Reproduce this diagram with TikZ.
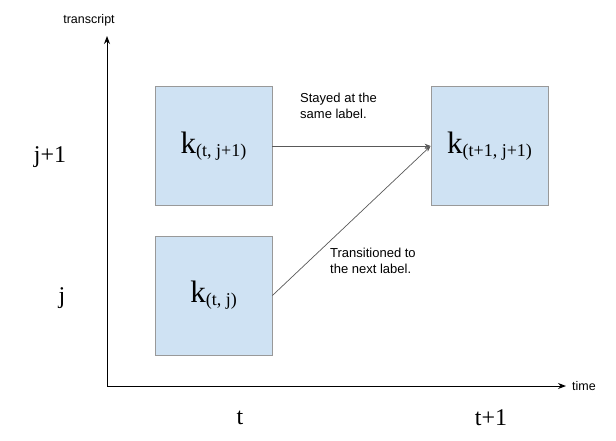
\documentclass[tikz,border=0pt]{standalone}
\usepackage{fontspec}
\setmainfont{Liberation Serif}
\setsansfont{Liberation Sans}
\usetikzlibrary{arrows.meta}
\definecolor{boxfill}{HTML}{CFE2F3}
\definecolor{boxline}{HTML}{999999}
\definecolor{conn}{HTML}{595959}
\begin{document}
\begin{tikzpicture}[x=1pt,y=-1pt,
  kbox/.style={draw=boxline,fill=boxfill,line width=0.8pt,minimum width=117pt,minimum height=119pt,inner sep=0pt,font=\fontsize{31}{33}\selectfont},
  axislbl/.style={font=\fontsize{24}{26}\selectfont,inner sep=0pt},
  note/.style={font=\sffamily\fontsize{13}{16}\selectfont,align=left,inner sep=0pt,anchor=north west},
  conn/.style={draw=conn,line width=0.7pt,-{Stealth[length=6pt,width=4.5pt]}},
  axis/.style={draw=black,line width=1pt,-{Stealth[length=8pt,width=6pt]}}]
\useasboundingbox (0,0) rectangle (616,440);
\node[kbox] (a) at (213.5,146) {k\raisebox{-0.2ex}{\fontsize{18}{20}\selectfont(t, j+1)}};
\node[kbox] (b) at (213.5,295.5) {k\raisebox{-0.2ex}{\fontsize{18}{20}\selectfont(t, j)}};
\node[kbox] (c) at (489.5,146) {k\raisebox{-0.2ex}{\fontsize{18}{20}\selectfont(t+1, j+1)}};
\coordinate (o) at (107,386);
\coordinate (yt) at (107,36);
\coordinate (xt) at (566,386);
\draw[axis] (o) -- (yt);
\draw[axis] (o) -- (xt);
\node[font=\sffamily\fontsize{12.5}{14}\selectfont,inner sep=0pt] (tr) at (89,20) {transcript};
\node[font=\sffamily\fontsize{12.5}{14}\selectfont,inner sep=0pt,anchor=west] (tm) at (572,386) {time};
\node[axislbl] (j1) at (50,157) {j+1};
\node[axislbl] (j0) at (62,298) {j};
\node[axislbl] (t0) at (240,418) {t};
\node[axislbl] (t1) at (491,418) {t+1};
\node[note] (n1) at (300,93) {Stayed at the\\same label.};
\node[note] (n2) at (330,248) {Transitioned to\\the next label.};
\draw[conn] (a.east) -- (c.west);
\draw[conn] (b.east) -- (c.west);
\end{tikzpicture}
\end{document}
